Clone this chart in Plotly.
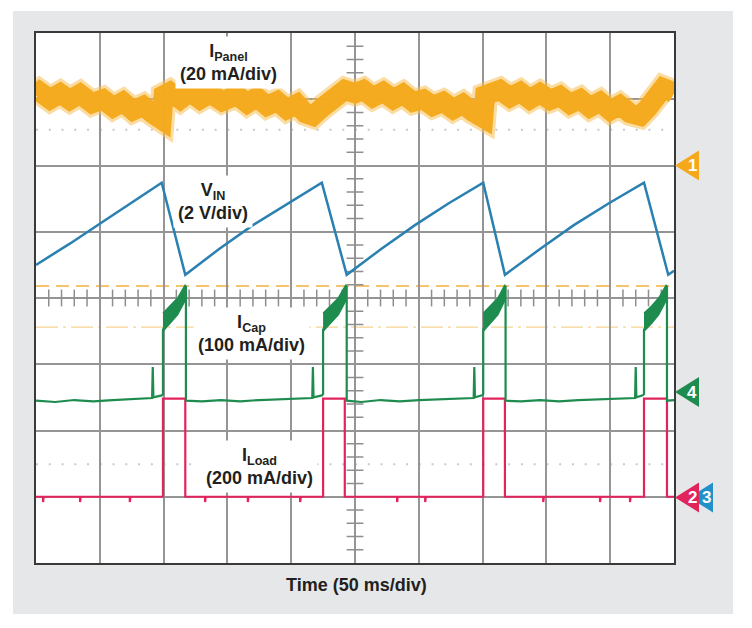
import plotly.graph_objects as go

# ---- Data (x in time divisions, 50 ms/div; y in screen divisions, 0..8) ----
panel_t = [0, 0.06, 0.22, 0.38, 0.53, 0.69, 0.88, 1.05, 1.21, 1.36, 1.52, 1.68, 1.83, 1.97,
           2.00, 2.10, 2.26, 2.41, 2.57, 2.73, 2.92, 3.15, 3.31, 3.46, 3.62, 3.78, 3.93, 4.09,
           4.22, 4.34, 4.48, 4.61, 4.73, 4.84, 5.00, 5.13, 5.28, 5.44, 5.60, 5.75, 5.91, 6.07,
           6.22, 6.38, 6.54, 6.69, 6.85, 7.01, 7.04, 7.12, 7.27, 7.43, 7.59, 7.74, 7.90, 8.06,
           8.21, 8.37, 8.53, 8.68, 8.84, 9.00, 9.15, 9.31, 9.47, 9.59, 9.72, 9.83, 9.91, 10.0]
panel_v = [7.06, 7.11, 7.00, 7.09, 6.99, 7.08, 6.94, 7.00, 6.88, 6.96, 6.83, 6.90, 6.78, 6.69,
           7.06, 7.11, 7.00, 7.11, 7.00, 7.09, 6.97, 7.06, 6.94, 7.03, 6.90, 6.97, 6.85, 6.93,
           6.79, 6.75, 6.87, 6.99, 7.12, 7.14, 7.09, 7.14, 7.03, 7.11, 7.00, 7.08, 6.96, 7.00,
           6.90, 6.96, 6.85, 6.93, 6.81, 6.72, 7.06, 7.08, 7.14, 7.03, 7.11, 7.00, 7.09, 6.99,
           7.05, 6.93, 7.00, 6.88, 6.96, 6.83, 6.91, 6.79, 6.75, 6.87, 7.05, 7.17, 7.14, 7.09]

vin_t = [0, 0.53, 1.00, 1.49, 1.97, 2.34, 2.87, 3.40, 3.95, 4.48, 4.87, 5.41, 5.94, 6.47,
         7.01, 7.35, 7.90, 8.43, 8.98, 9.53, 9.91, 10.0]
vin_v = [4.50, 4.82, 5.12, 5.43, 5.74, 4.35, 4.74, 5.10, 5.43, 5.74, 4.35, 4.74, 5.10, 5.43,
         5.74, 4.35, 4.74, 5.10, 5.43, 5.74, 4.35, 4.41]

cap_t = [0, 0.30, 0.60, 0.90, 1.20, 1.50, 1.82, 1.83, 1.84, 1.97, 1.99, 1.99, 2.34, 2.35, 2.35,
         2.60, 2.90, 3.20, 3.50, 3.80, 4.10, 4.33, 4.34, 4.35, 4.48, 4.50, 4.50, 4.86, 4.87, 4.87,
         5.10, 5.40, 5.70, 6.00, 6.30, 6.60, 6.86, 6.87, 6.88, 6.99, 7.01, 7.01, 7.35, 7.36, 7.36,
         7.60, 7.90, 8.20, 8.50, 8.80, 9.10, 9.39, 9.40, 9.41, 9.51, 9.53, 9.53, 9.88, 9.89, 9.89,
         10.0]
cap_v = [2.45, 2.43, 2.46, 2.44, 2.46, 2.47, 2.49, 2.96, 2.50, 2.53, 2.55, 3.52, 4.18, 4.18, 2.45,
         2.44, 2.46, 2.44, 2.46, 2.47, 2.48, 2.49, 2.96, 2.50, 2.53, 2.55, 3.52, 4.18, 4.18, 2.45,
         2.43, 2.46, 2.44, 2.46, 2.47, 2.48, 2.49, 2.96, 2.50, 2.53, 2.55, 3.52, 4.18, 4.18, 2.45,
         2.44, 2.46, 2.44, 2.46, 2.47, 2.48, 2.49, 2.96, 2.50, 2.53, 2.55, 3.52, 4.18, 4.18, 2.45,
         2.46]

# thick noisy ramp of the capacitor current during each load pulse (upper edge then lower edge)
cap_band_t = [1.99, 2.10, 2.22, 2.34, 2.34, 2.22, 2.10, 1.99, None,
              4.50, 4.62, 4.74, 4.86, 4.86, 4.74, 4.62, 4.50, None,
              7.01, 7.12, 7.24, 7.35, 7.35, 7.24, 7.12, 7.01, None,
              9.53, 9.65, 9.76, 9.88, 9.88, 9.76, 9.65, 9.53]
cap_band_v = [3.77, 3.88, 4.00, 4.20, 3.97, 3.75, 3.62, 3.50, None,
              3.77, 3.88, 4.00, 4.20, 3.97, 3.75, 3.62, 3.50, None,
              3.77, 3.88, 4.00, 4.20, 3.97, 3.75, 3.62, 3.50, None,
              3.77, 3.88, 4.00, 4.20, 3.97, 3.75, 3.62, 3.50]

load_t = [0, 0.11, 0.11, 0.12, 0.69, 0.69, 0.70, 1.47, 1.47, 1.48, 1.99, 1.99, 2.34, 2.34,
          2.65, 2.65, 2.66, 3.32, 3.32, 3.33, 4.14, 4.14, 4.15, 4.50, 4.50, 4.84, 4.84,
          5.66, 5.66, 5.67, 6.10, 6.10, 6.11, 7.01, 7.01, 7.35, 7.35, 7.95, 7.95, 7.96,
          8.84, 8.84, 8.85, 9.31, 9.31, 9.32, 9.53, 9.53, 9.89, 9.89, 10.0]
load_v = [1.00, 1.00, 0.92, 1.00, 1.00, 0.92, 1.00, 1.00, 0.92, 1.00, 1.00, 2.48, 2.48, 1.00,
          1.00, 0.92, 1.00, 1.00, 0.92, 1.00, 1.00, 0.92, 1.00, 1.00, 2.48, 2.48, 1.00,
          1.00, 0.92, 1.00, 1.00, 0.92, 1.00, 1.00, 2.48, 2.48, 1.00, 1.00, 0.92, 1.00,
          1.00, 0.92, 1.00, 1.00, 0.92, 1.00, 1.00, 2.48, 2.48, 1.00, 1.00]

# reference levels (screen divisions)
orange_dash_level = 4.18
orange_dashdot_level = 3.56
dotted_levels = [6.54, 1.49]

# channel ground markers: (label, level, colour)
markers = [("1", 6.00, "#F5A81C"), ("4", 2.58, "#1E8C4E"), ("3", 0.99, "#2291C9"), ("2", 0.99, "#E2245C")]

labels = [
    ("I<sub>Panel</sub><br>(20 mA/div)", 3.01, 7.56),
    ("V<sub>IN</sub><br>(2 V/div)", 2.77, 5.45),
    ("I<sub>Cap</sub><br>(100 mA/div)", 3.37, 3.46),
    ("I<sub>Load</sub><br>(200 mA/div)", 3.51, 1.46),
]

ORANGE = "#F5AA1C"
BLUE = "#2A80B1"
GREEN = "#1E8C4E"
PINK = "#E2245C"
FONT = "Liberation Sans, Arial, sans-serif"

# plot-area geometry (page body adds an 8 px offset)
PLOT_W = 638
MARK_X0 = 687 - 36  # marker centre, pixels right of plot left edge

fig = go.Figure()

# graticule centre-axis minor ticks
cy = [k * 0.2 for k in range(1, 40) if k % 5]
hx = [k * 0.2 for k in range(1, 50) if k % 5]
fig.add_trace(go.Scatter(x=[5.0] * len(cy), y=cy, mode="markers",
                         marker=dict(symbol="line-ew", size=12, line=dict(width=1.5, color="#8E8E8E")),
                         hoverinfo="skip", showlegend=False))
fig.add_trace(go.Scatter(x=hx, y=[4.0] * len(hx), mode="markers",
                         marker=dict(symbol="line-ns", size=12, line=dict(width=1.5, color="#8E8E8E")),
                         hoverinfo="skip", showlegend=False))

# traces
fig.add_trace(go.Scatter(x=panel_t, y=panel_v, mode="lines",
                         line=dict(color="#F8C25A", width=26), opacity=0.55, showlegend=False,
                         hoverinfo="skip"))
fig.add_trace(go.Scatter(x=panel_t, y=panel_v, mode="lines",
                         line=dict(color=ORANGE, width=20), opacity=0.97, showlegend=False))
fig.add_trace(go.Scatter(x=vin_t, y=vin_v, mode="lines",
                         line=dict(color=BLUE, width=2.5), showlegend=False))
fig.add_trace(go.Scatter(x=load_t, y=load_v, mode="lines",
                         line=dict(color=PINK, width=2.2), showlegend=False))
fig.add_trace(go.Scatter(x=cap_t, y=cap_v, mode="lines",
                         line=dict(color=GREEN, width=2.2), showlegend=False))
fig.add_trace(go.Scatter(x=cap_band_t, y=cap_band_v, mode="lines", fill="toself",
                         fillcolor=GREEN, line=dict(color=GREEN, width=1.5), showlegend=False))

shapes = []
# gray panel and white screen
shapes.append(dict(type="rect", xref="paper", yref="paper", x0=-0.036, x1=1.0925, y0=-0.0962, y1=1.0415,
                   fillcolor="#E6E7E8", line=dict(width=0), layer="below"))
shapes.append(dict(type="rect", xref="paper", yref="paper", x0=0, x1=1, y0=0, y1=1,
                   fillcolor="white", line=dict(width=0), layer="below"))
shapes.append(dict(type="line", xref="paper", yref="paper", x0=1.1183, x1=1.1183, y0=-0.13, y1=1.07,
                   line=dict(color="#5A5A5A", width=2)))
# reference lines
shapes.append(dict(type="line", xref="x", yref="y", x0=0, x1=10, y0=orange_dash_level, y1=orange_dash_level,
                   line=dict(color="#F3C570", width=2, dash="13px,7px"), layer="below"))
shapes.append(dict(type="line", xref="x", yref="y", x0=0, x1=10, y0=orange_dashdot_level, y1=orange_dashdot_level,
                   line=dict(color="#F6D394", width=1.3, dash="22px,5px,3px,5px"), layer="below"))
for lv in dotted_levels:
    shapes.append(dict(type="line", xref="x", yref="y", x0=0, x1=10, y0=lv, y1=lv,
                       line=dict(color="#C3CAD3", width=2, dash="2px,10.76px"), layer="below"))

annotations = []
for lab, lv, col in markers:
    off = 14 if lab == "3" else 0
    xa = (MARK_X0 + off) / PLOT_W
    shapes.append(dict(type="path", xref="paper", yref="paper", xsizemode="pixel", ysizemode="pixel",
                       xanchor=xa, yanchor=lv / 8.0, path="M -12,0 L 12,15 L 12,-15 Z",
                       fillcolor=col, line=dict(width=0)))
    annotations.append(dict(text=lab, xref="paper", yref="paper", x=(MARK_X0 + 5 + off) / PLOT_W, y=lv / 8.0,
                            showarrow=False, xanchor="center", yanchor="middle",
                            font=dict(family=FONT, size=17, color="white", weight="bold")))

for txt, x, y in labels:
    annotations.append(dict(text=txt, xref="x", yref="y", x=x, y=y, showarrow=False,
                            xanchor="center", yanchor="middle", align="center",
                            bgcolor="white", borderpad=4,
                            font=dict(family=FONT, size=18, color="#231F20", weight="bold")))

annotations.append(dict(text="Time (50 ms/div)", xref="paper", yref="paper", x=0.503, y=-0.0415,
                        showarrow=False, xanchor="center", yanchor="middle",
                        font=dict(family=FONT, size=18, color="#231F20", weight="bold")))

axis_common = dict(showgrid=True, gridcolor="#959595", gridwidth=1.7, zeroline=False,
                   showticklabels=False, ticks="", showline=True, mirror=True,
                   linecolor="#3A3A3A", linewidth=2, fixedrange=True)

fig.update_layout(
    width=744, height=620,
    margin=dict(l=28, r=78, t=25, b=65),
    paper_bgcolor="white", plot_bgcolor="white",
    xaxis=dict(range=[0, 10], dtick=1, **axis_common),
    yaxis=dict(range=[0, 8], dtick=1, **axis_common),
    shapes=shapes, annotations=annotations, showlegend=False,
)

fig.write_html("out.html")
